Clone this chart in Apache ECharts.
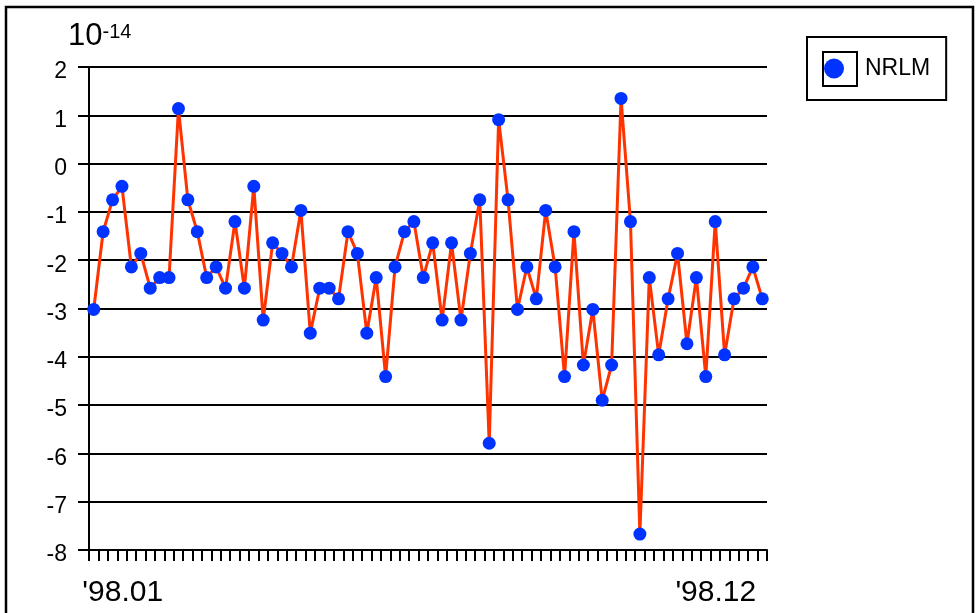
<!DOCTYPE html>
<html>
<head>
<meta charset="utf-8">
<script src="https://cdn.jsdelivr.net/npm/echarts@6/dist/echarts.min.js"></script>
<style>
html,body{margin:0;padding:0;background:#fff;}
#chart{width:979px;height:613px;}
</style>
</head>
<body>
<div id="chart"></div>
<script>
// ---- data ----
var months = ['01','02','03','04','05','06','07','08','09','10','11','12'];
var pointsPerMonth = 6;
var xTickLabels = ["'98.01", "'98.12"];
var seriesName = 'NRLM';
var values = [
  -3.02, -1.41, -0.75, -0.47, -2.14, -1.86, -2.58, -2.36, -2.36, 1.14,
  -0.75, -1.41, -2.36, -2.14, -2.58, -1.20, -2.58, -0.47, -3.24, -1.64,
  -1.86, -2.14, -0.97, -3.51, -2.58, -2.58, -2.80, -1.41, -1.86, -3.51,
  -2.36, -4.41, -2.14, -1.41, -1.20, -2.36, -1.64, -3.24, -1.64, -3.24,
  -1.86, -0.75, -5.79, 0.91, -0.75, -3.02, -2.14, -2.80, -0.97, -2.14,
  -4.41, -1.41, -4.17, -3.02, -4.90, -4.17, 1.35, -1.20, -7.67, -2.36,
  -3.96, -2.80, -1.86, -3.73, -2.36, -4.41, -1.20, -3.96, -2.80, -2.58,
  -2.14, -2.80
];
var yMin = -8, yMax = 2, yStep = 1;

var categories = [];
months.forEach(function (m) {
  for (var k = 1; k <= pointsPerMonth; k++) categories.push("'98." + m + '-' + k);
});
var lastIdx = categories.length - 1;

var FONT = '"Liberation Sans", Arial, Helvetica, sans-serif';
var chart = echarts.init(document.getElementById('chart'), null, {renderer: 'canvas'});
chart.setOption({
  animation: false,
  backgroundColor: '#fff',
  title: {
    text: '{a|10}{b|-14}',
    left: 63, top: 15,
    textStyle: {
      fontFamily: FONT, fontWeight: 'normal',
      rich: {
        a: {fontSize: 31, lineHeight: 32, color: '#000', fontFamily: FONT, fontWeight: 'normal'},
        b: {fontSize: 20, lineHeight: 20, color: '#000', fontFamily: FONT, fontWeight: 'normal', verticalAlign: 'top', padding: [2, 0, 0, 0]}
      }
    }
  },
  legend: {
    data: [seriesName],
    left: 807, top: 37,
    orient: 'vertical',
    padding: [20, 16, 20, 17],
    borderColor: '#000', borderWidth: 2,
    icon: 'circle',
    itemWidth: 34, itemHeight: 20,
    itemGap: 0,
    itemStyle: {color: '#0033ff', borderWidth: 0},
    textStyle: {fontFamily: FONT, fontSize: 23, color: '#000', padding: [0, 0, 0, 9]}
  },
  grid: {left: 89, top: 67, width: 678, height: 483, containLabel: false},
  xAxis: {
    type: 'category',
    data: categories,
    boundaryGap: true,
    axisLine: {show: true, onZero: false, lineStyle: {color: '#000', width: 2}},
    axisTick: {show: true, interval: 0, length: 11, lineStyle: {color: '#000', width: 2}},
    axisLabel: {
      show: true,
      interval: function (i) { return i === 0 || i === lastIdx; },
      margin: 28,
      fontFamily: FONT, fontSize: 30, color: '#000',
      formatter: function (v, i) {
        if (i === 0) return '{l|' + xTickLabels[0] + '}';
        if (i === lastIdx) return '{r|' + xTickLabels[1] + '}';
        return '';
      },
      rich: {
        l: {fontFamily: FONT, fontSize: 30, color: '#000', padding: [0, 0, 0, 58]},
        r: {fontFamily: FONT, fontSize: 30, color: '#000', padding: [0, 93, 0, 0]}
      }
    },
    splitLine: {show: false}
  },
  yAxis: {
    type: 'value',
    min: yMin, max: yMax, interval: yStep,
    axisLine: {show: true, lineStyle: {color: '#000', width: 2}},
    axisTick: {show: true, length: 11, lineStyle: {color: '#000', width: 2}},
    axisLabel: {
      fontFamily: FONT, fontSize: 23, color: '#000', margin: 22,
      formatter: function (v) { return '{v|' + v + '}'; },
      rich: {v: {fontFamily: FONT, fontSize: 23, color: '#000', padding: [10, 0, 0, 0]}}
    },
    splitLine: {show: true, lineStyle: {color: '#000', width: 2}}
  },
  series: [{
    name: seriesName,
    type: 'line',
    data: values,
    symbol: 'circle',
    symbolSize: 13,
    showAllSymbol: true,
    lineStyle: {color: '#ff3300', width: 3},
    itemStyle: {color: '#0033ff', borderWidth: 0},
    emphasis: {disabled: true}
  }],
  graphic: [
    {type: 'rect', shape: {x: 6, y: 7, width: 967, height: 640},
     style: {fill: 'none', stroke: '#000', lineWidth: 2.5}, silent: true},
    {type: 'rect', shape: {x: 823, y: 52, width: 34, height: 34},
     style: {fill: 'none', stroke: '#000', lineWidth: 2}, silent: true}
  ]
});
</script>
</body>
</html>
